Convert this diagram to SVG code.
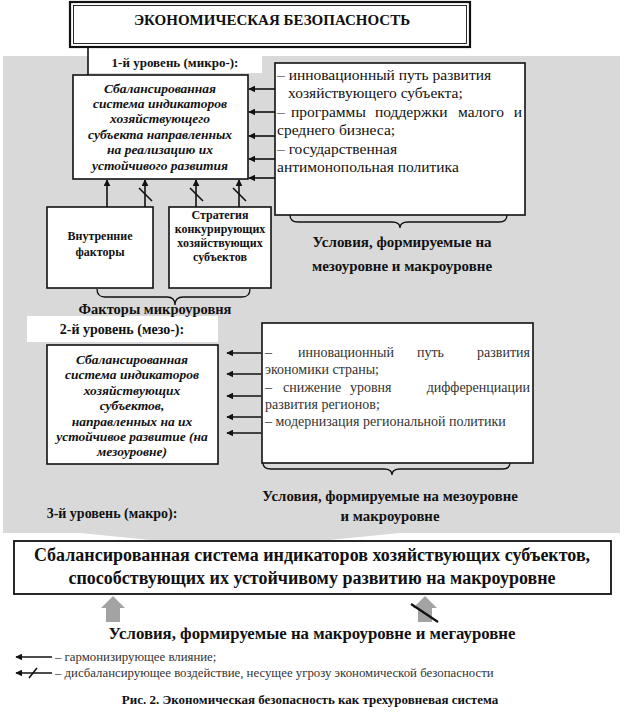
<svg xmlns="http://www.w3.org/2000/svg" width="628" height="713" viewBox="0 0 628 713" font-family="'Liberation Serif', 'DejaVu Serif', serif">
<style>
text{font-family:'Liberation Serif','DejaVu Serif',serif;fill:#111}
.b{font-weight:bold}
.bi{font-weight:bold;font-style:italic;font-size:13.5px}
.box{fill:#fff;stroke:#111;stroke-width:1.6}
.ln{stroke:#111;stroke-width:1.6;fill:none}
.br{stroke:#111;stroke-width:1.3;fill:none}
.r15{font-size:15.5px}
.r14{font-size:14px;fill:#333}
.lg{font-size:12.8px;fill:#333}
</style>
<defs>
<marker id="ah" viewBox="0 0 10 10" refX="9" refY="5" markerWidth="7" markerHeight="7" markerUnits="userSpaceOnUse" orient="auto">
<path d="M0,0 L10,5 L0,10 z" fill="#111"/>
</marker>
</defs>

<g id="background">
<path d="M3,56 H620 V533 H400 L240,549 L80,533 H3 Z" fill="#d9d9d9"/>
<rect x="88" y="56" width="174" height="17" fill="#fff"/>
<rect x="27" y="316" width="191" height="26" fill="#fff"/>
</g>

<g id="title">
<rect x="70" y="2" width="400" height="45" fill="#fff" stroke="#111" stroke-width="2.2"/>
<rect x="73.5" y="5.5" width="393" height="38" fill="none" stroke="#111" stroke-width="0.9"/>
<text x="272" y="25" class="b" font-size="15" text-anchor="middle">ЭКОНОМИЧЕСКАЯ БЕЗОПАСНОСТЬ</text>
</g>

<g id="level1-label">
<text x="175" y="67" class="b" font-size="13" text-anchor="middle">1-й уровень (микро-):</text>
</g>

<g id="micro-indicators">
<rect class="box" x="73" y="75" width="175" height="104"/>
<text class="bi" text-anchor="middle"><tspan x="160" y="93">Сбалансированная</tspan><tspan x="160" y="108">система индикаторов</tspan><tspan x="160" y="123">хозяйствующего</tspan><tspan x="160" y="139">субъекта направленных</tspan><tspan x="160" y="154">на реализацию их</tspan><tspan x="160" y="170">устойчивого развития</tspan></text>
</g>

<g id="micro-conditions">
<rect class="box" x="275" y="63" width="250" height="152"/>
<text class="r15"><tspan x="277" y="80">– инновационный путь развития</tspan><tspan x="288" y="98">хозяйствующего субъекта;</tspan></text>
<text class="r15" y="117"><tspan x="277">–</tspan><tspan x="291">программы</tspan><tspan x="375">поддержки</tspan><tspan x="458">малого</tspan><tspan x="522" text-anchor="end">и</tspan></text>
<text class="r15"><tspan x="277" y="135">среднего бизнеса;</tspan><tspan x="277" y="154">– государственная</tspan><tspan x="277" y="172">антимонопольная политика</tspan></text>
</g>

<g id="internal-factors">
<rect class="box" x="47" y="207" width="106" height="81"/>
<text class="b" font-size="12" text-anchor="middle"><tspan x="100" y="240">Внутренние</tspan><tspan x="100" y="256">факторы</tspan></text>
</g>

<g id="competitors-strategy">
<rect class="box" x="169" y="207" width="102" height="81"/>
<text class="b" font-size="12" text-anchor="middle"><tspan x="220" y="219">Стратегия</tspan><tspan x="220" y="233">конкурирующих</tspan><tspan x="220" y="247">хозяйствующих</tspan><tspan x="220" y="261">субъектов</tspan></text>
</g>

<g id="micro-factors-label">
<path class="br" d="M97,289 Q97,297 105,297 L167,297 Q175,297 175,305 Q175,297 183,297 L242,297 Q250,297 250,289"/>
<text x="155" y="314" class="b" font-size="14.5" text-anchor="middle">Факторы микроуровня</text>
</g>

<g id="micro-conditions-label">
<path class="br" d="M290,215 Q290,222 298,222 L392,222 Q400,222 400,228 Q400,222 408,222 L499,222 Q507,222 507,215"/>
<text class="b" font-size="15" text-anchor="middle"><tspan x="402" y="247">Условия, формируемые на</tspan><tspan x="402" y="271">мезоуровне и макроуровне</tspan></text>
</g>

<g id="level2-label">
<text x="122" y="334" class="b" font-size="14" text-anchor="middle">2-й уровень (мезо-):</text>
</g>

<g id="meso-indicators">
<rect class="box" x="47" y="345" width="171" height="119"/>
<text class="bi" text-anchor="middle"><tspan x="132" y="364">Сбалансированная</tspan><tspan x="132" y="379">система индикаторов</tspan><tspan x="132" y="395">хозяйствующих</tspan><tspan x="132" y="410">субъектов,</tspan><tspan x="132" y="426">направленных на их</tspan><tspan x="132" y="441">устойчивое развитие (на</tspan><tspan x="132" y="456">мезоуровне)</tspan></text>
</g>

<g id="meso-conditions">
<rect class="box" x="262" y="323" width="271" height="140"/>
<text class="r14" y="357"><tspan x="265">–</tspan><tspan x="298">инновационный</tspan><tspan x="417">путь</tspan><tspan x="530" text-anchor="end">развития</tspan></text>
<text class="r14" x="265" y="374">экономики страны;</text>
<text class="r14" y="392"><tspan x="265">–</tspan><tspan x="283">снижение</tspan><tspan x="350">уровня</tspan><tspan x="530" text-anchor="end">дифференциации</tspan></text>
<text class="r14" x="265" y="409">развития регионов;</text>
<text class="r14" x="265" y="426">– модернизация региональной политики</text>
</g>

<g id="meso-conditions-label">
<path class="br" d="M263,463 Q263,469 271,469 L384,469 Q392,469 392,475 Q392,469 400,469 L502,469 Q510,469 510,463"/>
<text class="b" font-size="14.8" text-anchor="middle"><tspan x="390" y="501">Условия, формируемые на мезоуровне</tspan><tspan x="390" y="521">и макроуровне</tspan></text>
</g>

<g id="level3-label">
<text x="112" y="518" class="b" font-size="14" text-anchor="middle">3-й уровень (макро):</text>
</g>

<g id="macro-indicators">
<rect x="14" y="541" width="597" height="53" fill="#fff" stroke="#111" stroke-width="1.8"/>
<text class="b" font-size="18" text-anchor="middle"><tspan x="312" y="561">Сбалансированная система индикаторов хозяйствующих субъектов,</tspan><tspan x="312" y="584">способствующих их устойчивому развитию на макроуровне</tspan></text>
</g>

<g id="macro-conditions-label">
<text x="312" y="639" class="b" font-size="16.8" text-anchor="middle">Условия, формируемые на макроуровне и мегауровне</text>
</g>

<g id="connectors">
<line class="ln" x1="88" y1="47" x2="88" y2="75"/>
<g marker-end="url(#ah)">
<line class="ln" x1="275" y1="89" x2="249" y2="89"/>
<line class="ln" x1="275" y1="112" x2="249" y2="112"/>
<line class="ln" x1="275" y1="136" x2="249" y2="136"/>
<line class="ln" x1="275" y1="159" x2="249" y2="159"/>
<line class="ln" x1="275" y1="178" x2="249" y2="178"/>
<line class="ln" x1="107" y1="207" x2="107" y2="180"/>
<line class="ln" x1="145" y1="207" x2="145" y2="180"/>
<line class="ln" x1="196" y1="207" x2="196" y2="180"/>
<line class="ln" x1="239" y1="207" x2="239" y2="180"/>
<line class="ln" x1="261" y1="353" x2="227" y2="353"/>
<line class="ln" x1="261" y1="374" x2="227" y2="374"/>
<line class="ln" x1="261" y1="396" x2="227" y2="396"/>
<line class="ln" x1="261" y1="417" x2="227" y2="417"/>
<line class="ln" x1="261" y1="433" x2="227" y2="433"/>
</g>
<g class="ln" stroke-width="2">
<line x1="139" y1="188" x2="152" y2="201"/>
<line x1="190" y1="188" x2="203" y2="201"/>
<line x1="233" y1="188" x2="246" y2="201"/>
</g>
<g fill="#a3a3a3">
<path d="M106,622 V608 H101 L113,596 L125,608 H120 V622 Z"/>
<path d="M418,622 V608 H413 L425,596 L437,608 H432 V622 Z"/>
</g>
<line x1="411" y1="604" x2="438" y2="622" stroke="#111" stroke-width="2.2"/>
</g>

<g id="legend">
<line class="ln" x1="52" y1="657" x2="16" y2="657" stroke-width="1.3" marker-end="url(#ah)"/>
<text x="55" y="661" class="lg">– гармонизирующее влияние;</text>
<line class="ln" x1="52" y1="673" x2="16" y2="673" stroke-width="1.3" marker-end="url(#ah)"/>
<line class="ln" x1="29" y1="678" x2="37" y2="668" stroke-width="1.3"/>
<text x="55" y="677" class="lg">– дисбалансирующее воздействие, несущее угрозу экономической безопасности</text>
</g>

<g id="caption">
<text x="310" y="704" class="b" font-size="13" text-anchor="middle">Рис. 2. Экономическая безопасность как трехуровневая система</text>
</g>
</svg>
